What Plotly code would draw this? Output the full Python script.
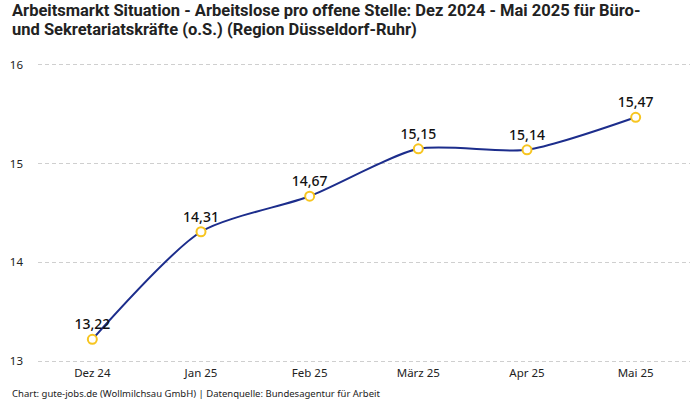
import plotly.graph_objects as go

months = ["Dez 24", "Jan 25", "Feb 25", "März 25", "Apr 25", "Mai 25"]
values = [13.22, 14.31, 14.67, 15.15, 15.14, 15.47]
y_ticks = [13, 14, 15, 16]

title_lines = ["Arbeitsmarkt Situation - Arbeitslose pro offene Stelle: Dez 2024 - Mai 2025 für Büro-",
               "und Sekretariatskräfte (o.S.) (Region Düsseldorf-Ruhr)"]
footer = "Chart: gute-jobs.de (Wollmilchsau GmbH) | Datenquelle: Bundesagentur für Arbeit"

fig = go.Figure()
fig.add_trace(go.Scatter(
    x=months, y=values,
    mode="lines+markers+text",
    line=dict(color="#1c2d8c", width=2, shape="spline", smoothing=0.7),
    marker=dict(size=9, color="white", line=dict(color="#f7c520", width=2)),
    text=values,
    texttemplate="%{y:.2f}",
    textposition="top center",
    textfont=dict(family="Noto Sans, sans-serif", size=14, color="#111111", weight=500),
    cliponaxis=False,
    hoverinfo="skip",
))

T, B = 62, 36
ph = 400 - T - B
fig.update_layout(
    width=700, height=400,
    margin=dict(l=38, r=10, t=T, b=B),
    paper_bgcolor="white", plot_bgcolor="white",
    separators=",.",
    showlegend=False,
    font=dict(family="Noto Sans, sans-serif", size=11, color="#222222"),
)
fig.update_xaxes(
    type="category", range=[-0.5, 5.5], showgrid=False, showline=False, ticks="",
    tickfont=dict(size=11.5, color="#222222"),
)
fig.update_yaxes(
    range=[12.97, 16.03], tickvals=y_ticks, showgrid=True, gridcolor="#cfcfcf", griddash="4px,3px",
    gridwidth=1, zeroline=False, showline=False, ticks="",
    ticklabelstandoff=14, tickfont=dict(size=11.5, color="#222222"),
)
for line, py in zip(title_lines, [10, 29]):
    fig.add_annotation(text="<b>" + line + "</b>", xref="paper", yref="paper",
                       x=-(38 - 10) / 652, y=(400 - B - py) / ph,
                       xanchor="left", yanchor="middle", showarrow=False,
                       font=dict(family="Liberation Sans Narrow, Roboto, sans-serif", size=16.5, color="#222222"))
fig.add_annotation(text=footer, xref="paper", yref="paper", x=-(38 - 10) / 652, y=(400 - B - 393) / ph,
                   xanchor="left", yanchor="middle", showarrow=False,
                   font=dict(size=9.5, color="#222222"))

fig.write_html("out.html", config={"displayModeBar": False},
               post_script="document.body.style.margin='0';document.body.style.overflow='hidden';")
